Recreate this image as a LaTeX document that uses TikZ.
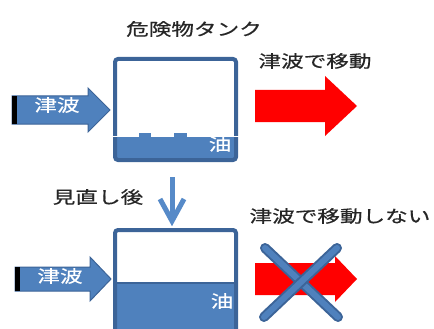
\documentclass[tikz,border=0pt]{standalone}
\usepackage{fontspec}
\newfontfamily\jp[FakeStretch=1.33,FakeBold=0.6]{Noto Sans CJK JP}
\definecolor{tb}{RGB}{79,129,189}
\definecolor{tbd}{RGB}{60,100,152}
\definecolor{arrowblue}{RGB}{86,138,200}
\begin{document}
\begin{tikzpicture}[x=1pt,y=-1pt,
  lbl/.style={font=\jp\fontsize{17}{17}\selectfont, inner sep=0pt, text=black!85},
  wlbl/.style={font=\jp\fontsize{17}{17}\selectfont, inner sep=0pt, text=white},
  tankbox/.style={fill=white, draw=none, inner sep=0pt, outer sep=0pt},
  tankborder/.style={draw=tbd, line width=4pt, rounded corners=3pt},
  bluearrow/.style={fill=tb, draw=tbd, line width=1pt},
  xbar/.style={line cap=round}]
\useasboundingbox (0,0) rectangle (434,329);
\clip (0,0) rectangle (434,329);

% ---------- top ----------
\node[lbl] (title) at (194,29) {危険物タンク};
\node[lbl] (move) at (315,61) {津波で移動};

\node[tankbox, minimum width=121pt, minimum height=101pt] (tank1) at (175.5,109.5) {};
\fill[tb] (115,137) -- (138,137) -- (138,133) -- (152,133) -- (152,137)
  -- (173,137) -- (173,133) -- (188,133) -- (188,137) -- (236,137)
  -- (236,160) -- (115,160) -- cycle;
\draw[tankborder] (tank1.south west) rectangle (tank1.north east);
\draw[white, line width=1.5pt] (111,136.5) -- (138,136.5) -- (138,132.5) -- (152,132.5) -- (152,136.5)
  -- (173,136.5) -- (173,132.5) -- (188,132.5) -- (188,136.5) -- (240,136.5);
\node[wlbl] (oil1) at (220,144) {油};

\filldraw[bluearrow] (12,96) -- (88,96) -- (88,88) -- (110,110) -- (88,132) -- (88,124) -- (12,124) -- cycle;
\fill[black] (12,96) rectangle (17,124);
\node[wlbl] (wave1) at (57,105) {津波};

\fill[red] (255,90) -- (325,90) -- (325,76) -- (357,106) -- (325,136) -- (325,122) -- (255,122) -- cycle;

% ---------- middle ----------
\node[lbl] (after) at (98,197) {見直し後};
\coordinate (dtop) at (172,177);
\coordinate (dtip) at (172,221);
\draw[arrowblue, line width=5pt] (dtop) -- (dtip);
\draw[arrowblue, line width=5pt, line join=miter] (160,199) -- (dtip) -- (184,199);

% ---------- bottom ----------
\node[lbl] (nomove) at (340,216) {津波で移動しない};

\node[tankbox, minimum width=121pt, minimum height=110pt] (tank2) at (175.5,285) {};
\fill[tb] (115,283) rectangle (236,340);
\draw[tankborder] (tank2.south west) rectangle (tank2.north east);
\draw[tbd, line width=2pt] (115,283) -- (236,283);
\node[wlbl] (oil2) at (222,301) {油};

\filldraw[bluearrow] (15,267) -- (90,267) -- (90,257) -- (111,279) -- (90,301) -- (90,291) -- (15,291) -- cycle;
\fill[black] (15,267) rectangle (20,291);
\node[wlbl] (wave2) at (60,276) {津波};

\fill[red] (255,263) -- (335,263) -- (335,256) -- (357,279) -- (335,302) -- (335,295) -- (255,295) -- cycle;

\draw[xbar, tbd, line width=10pt] (265,248) -- (338,317);
\draw[xbar, tb, line width=6pt] (265,248) -- (338,317);
\draw[xbar, tbd, line width=10pt] (337,248) -- (264,317);
\draw[xbar, tb, line width=6pt] (337,248) -- (264,317);
\end{tikzpicture}
\end{document}
